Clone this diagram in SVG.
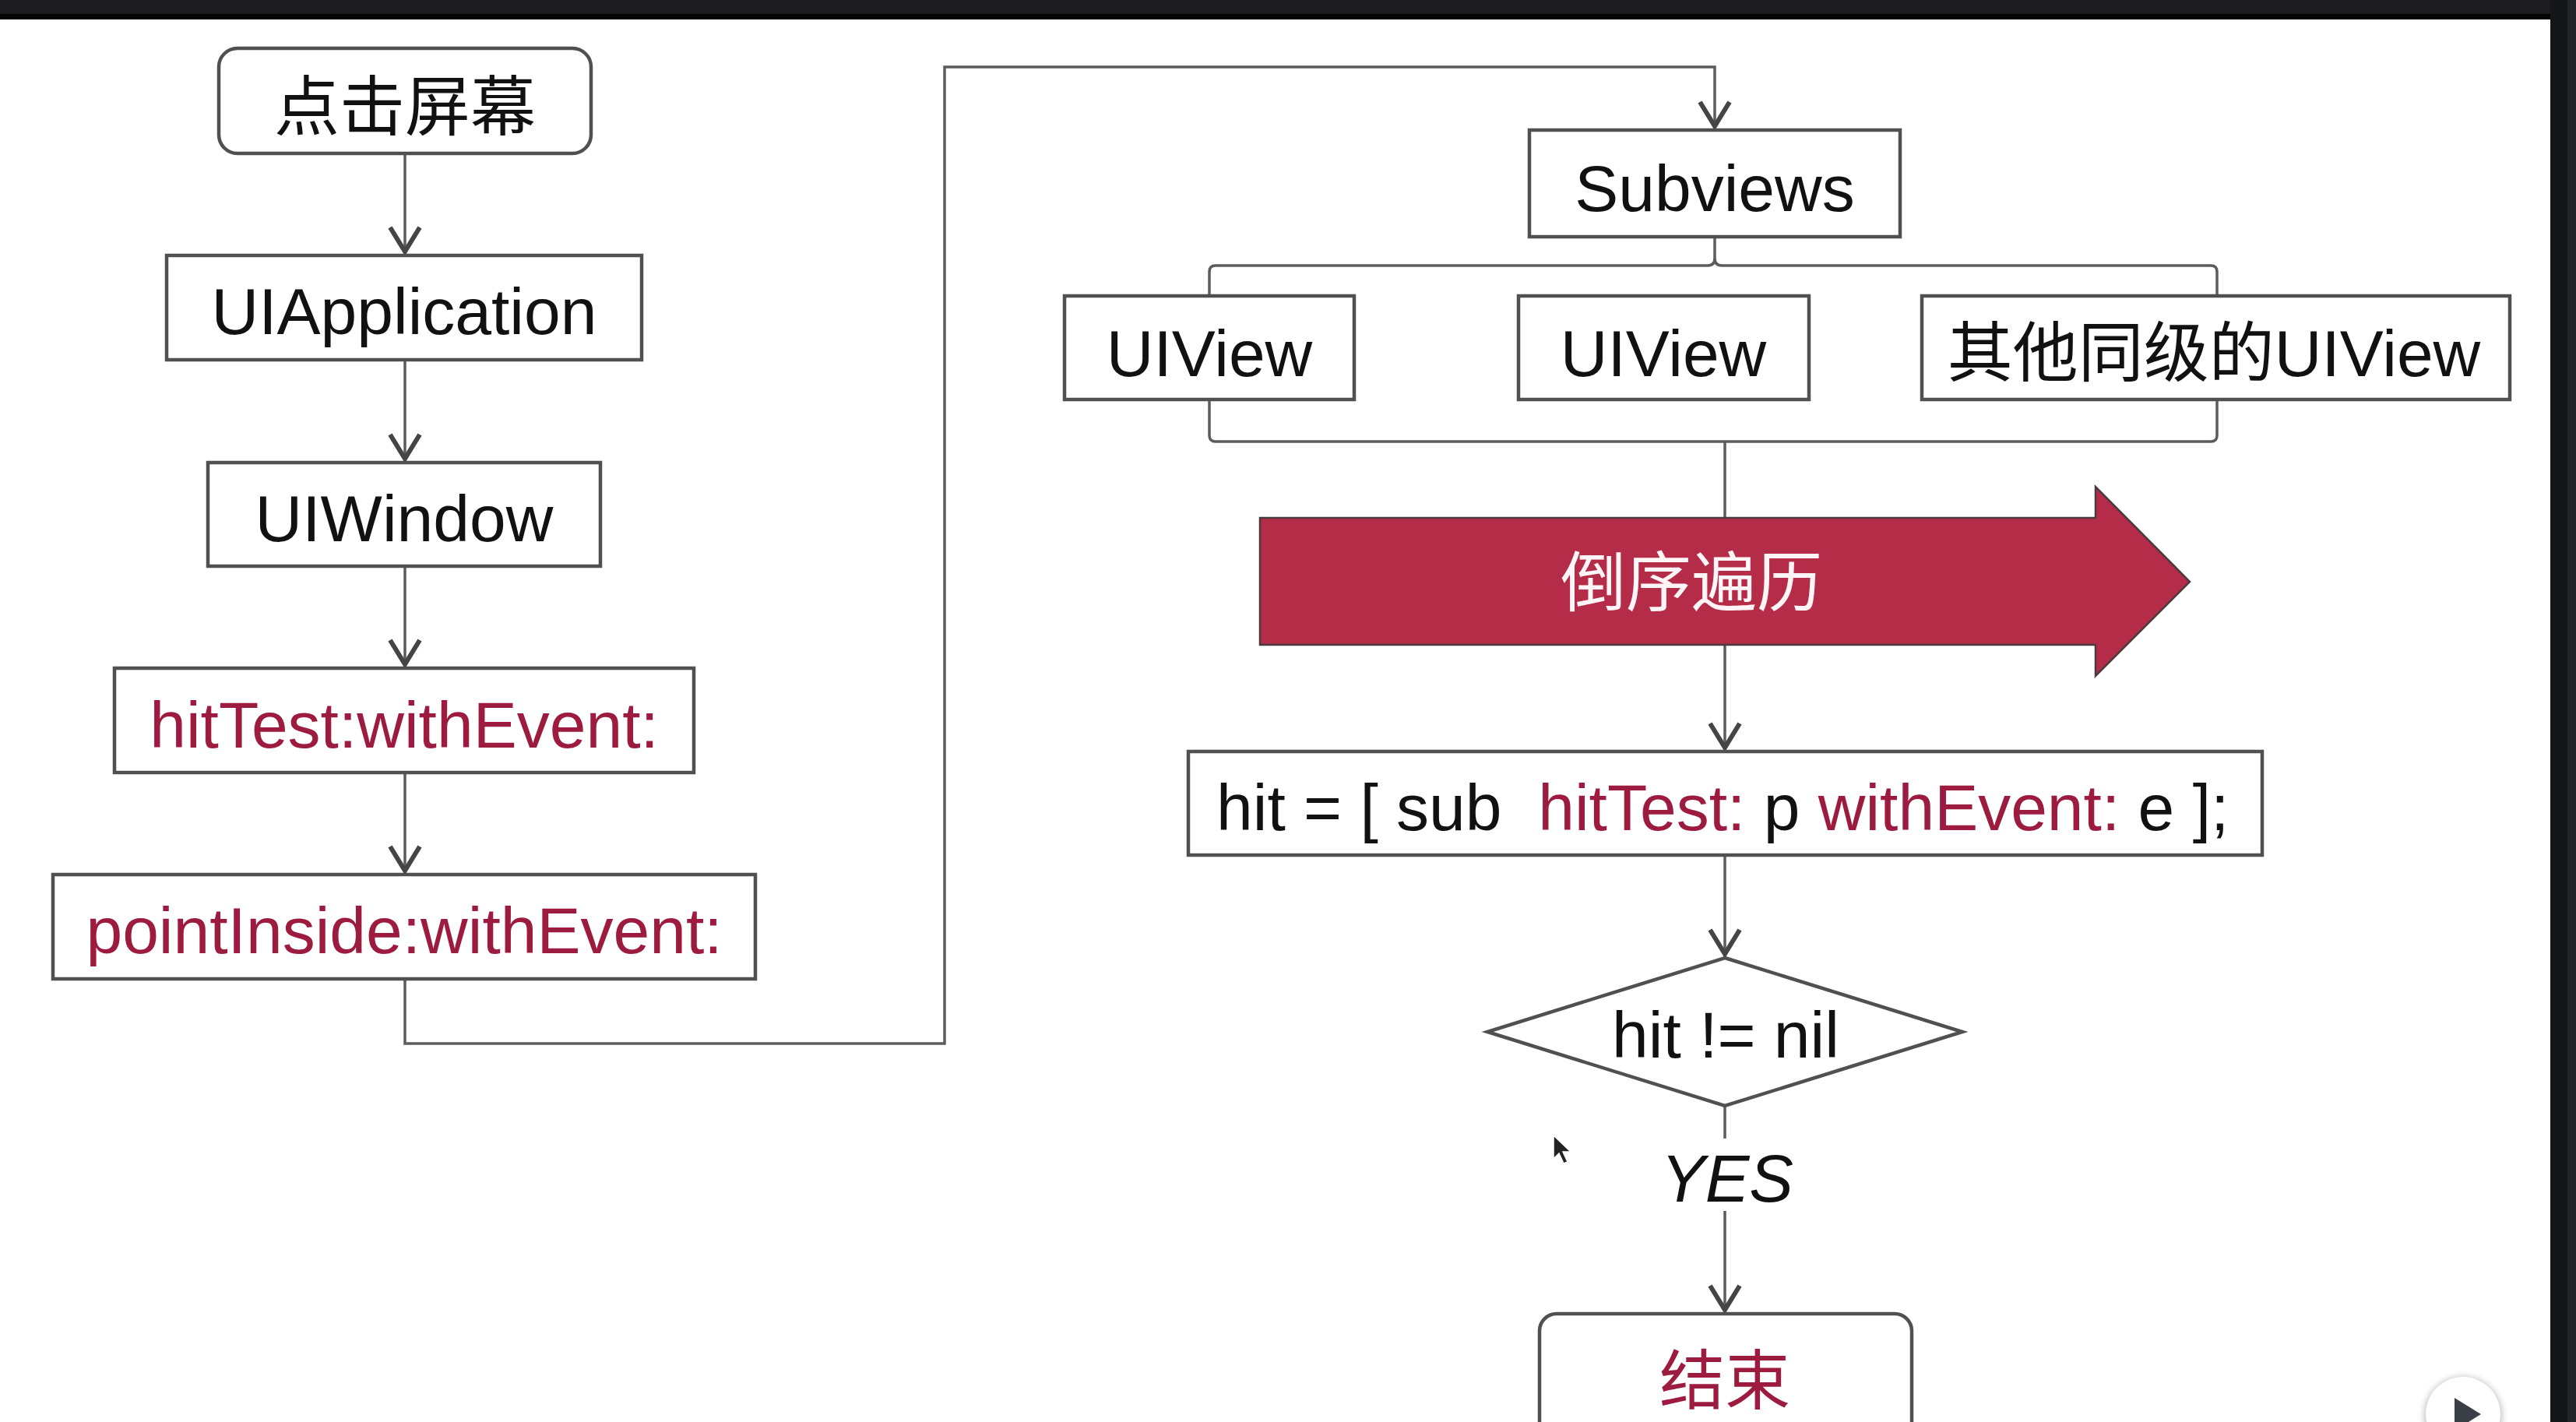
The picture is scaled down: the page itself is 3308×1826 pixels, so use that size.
<svg xmlns="http://www.w3.org/2000/svg" width="3308" height="1826" viewBox="0 0 3308 1826">
<style>
.box{fill:#fff;stroke:#505050;stroke-width:4.5}
.ln{fill:none;stroke:#5c5c5c;stroke-width:3.5}
.t{font-family:"Liberation Sans","Noto Sans CJK SC",sans-serif;font-size:84px;fill:#111;text-anchor:middle}
.cjk{font-family:"Noto Sans CJK SC","Liberation Sans",sans-serif}
.r{fill:#9e1b40}
</style>
<defs>
<marker id="ah" markerUnits="userSpaceOnUse" viewBox="-40 -25 50 50" markerWidth="50" markerHeight="50" refX="0" refY="0" orient="auto">
<path d="M-36,-19 L-5,0 L-36,19" fill="none" stroke="#454545" stroke-width="6"/>
</marker>
<filter id="sh" x="-50%" y="-50%" width="200%" height="200%"><feGaussianBlur stdDeviation="4"/></filter>
</defs>
<rect x="0" y="0" width="3308" height="1826" fill="#ffffff"/>

<g id="connectors">
<path class="ln" d="M520,197 V328" marker-end="url(#ah)"/>
<path class="ln" d="M520,462 V594" marker-end="url(#ah)"/>
<path class="ln" d="M520,727 V858" marker-end="url(#ah)"/>
<path class="ln" d="M520,992 V1123" marker-end="url(#ah)"/>
<path class="ln" d="M520,1257 V1340 H1213 V86 H2202 V167" marker-end="url(#ah)"/>
<path class="ln" d="M2202,304 V332 Q2202,341 2193,341 H1561 Q1553,341 1553,349 V380"/>
<path class="ln" d="M2202,332 Q2202,341 2211,341 H2839 Q2847,341 2847,349 V380"/>
<path class="ln" d="M1553,513 V559 Q1553,567 1561,567 H2839 Q2847,567 2847,559 V513"/>
<path class="ln" d="M2215,567 V965" marker-end="url(#ah)"/>
<path class="ln" d="M2215,1098 V1230" marker-end="url(#ah)"/>
<path class="ln" d="M2215,1420 V1462"/>
<path class="ln" d="M2215,1555 V1687" marker-end="url(#ah)"/>
</g>

<g id="n-tap">
<rect class="box" x="281" y="62" width="478" height="135" rx="24"/>
<text class="t cjk" x="520" y="167">点击屏幕</text>
</g>
<g id="n-uiapplication">
<rect class="box" x="214" y="328" width="610" height="134"/>
<text class="t" x="519" y="429">UIApplication</text>
</g>
<g id="n-uiwindow">
<rect class="box" x="267" y="594" width="504" height="133"/>
<text class="t" x="519" y="695">UIWindow</text>
</g>
<g id="n-hittest">
<rect class="box" x="147" y="858" width="744" height="134"/>
<text class="t r" x="519" y="960">hitTest:withEvent:</text>
</g>
<g id="n-pointinside">
<rect class="box" x="68" y="1123" width="902" height="134"/>
<text class="t r" x="519" y="1224">pointInside:withEvent:</text>
</g>

<g id="n-subviews">
<rect class="box" x="1964" y="167" width="476" height="137"/>
<text class="t" x="2202" y="271">Subviews</text>
</g>
<g id="n-uiview1">
<rect class="box" x="1367" y="380" width="372" height="133"/>
<text class="t" x="1553" y="483">UIView</text>
</g>
<g id="n-uiview2">
<rect class="box" x="1950" y="380" width="373" height="133"/>
<text class="t" x="2136" y="483">UIView</text>
</g>
<g id="n-others">
<rect class="box" x="2468" y="380" width="755" height="133"/>
<text class="t" x="2843" y="483"><tspan class="cjk">其他同级的</tspan>UIView</text>
</g>

<g id="n-reverse">
<path d="M1618,665 H2691 V625 L2812,747 L2691,868 V828 H1618 Z" fill="#b42c47" stroke="#4a3a3e" stroke-width="2.5"/>
<text class="t cjk" x="2172" y="778" style="fill:#fff4f6">倒序遍历</text>
</g>

<g id="n-hitcall">
<rect class="box" x="1526" y="965" width="1379" height="133"/>
<text class="t" x="1562" y="1066" xml:space="preserve" style="text-anchor:start">hit = [ sub  <tspan class="r">hitTest:</tspan> p <tspan class="r">withEvent:</tspan> e ];</text>
</g>

<g id="n-decision">
<polygon class="box" points="2215,1230 2520,1325 2215,1420 1910,1325"/>
<text class="t" x="2216" y="1358">hit != nil</text>
</g>

<g id="label-yes">
<text class="t" x="2218" y="1543" style="font-style:italic;font-size:85px">YES</text>
</g>

<g id="n-end">
<rect class="box" x="1977" y="1687" width="478" height="200" rx="22"/>
<text class="t cjk r" x="2215" y="1803">结束</text>
</g>

<g id="screen-chrome">
<rect x="0" y="0" width="3308" height="18" fill="#1c1c1e"/>
<rect x="0" y="18" width="3308" height="7" fill="#050505"/>
<rect x="3275" y="0" width="22" height="1826" fill="#151617"/>
<rect x="3297" y="0" width="11" height="1826" fill="#222426"/>
<path d="M1995,1458 L1995,1488 L2002,1481 L2008,1494 L2013,1492 L2007,1479 L2017,1479 Z" fill="#222" stroke="#fff" stroke-width="1.5"/>
<circle cx="3163" cy="1818" r="50" fill="#000" opacity="0.25" filter="url(#sh)"/>
<circle cx="3163" cy="1816" r="48" fill="#ffffff"/>
<polygon points="3152,1795 3152,1837 3186,1816" fill="#3a3f47"/>
</g>
</svg>
